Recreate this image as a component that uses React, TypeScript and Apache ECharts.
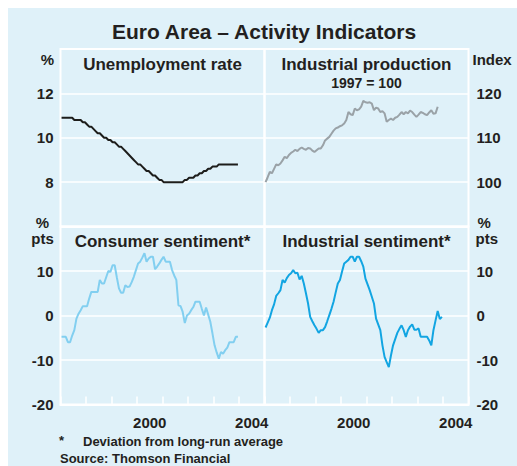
import React, { useEffect, useRef } from "react";
import * as echarts from "echarts";

// ---- Data ----
const startYear = 1997;
const yearTicks = ["1997", "1998", "1999", "2000", "2001", "2002", "2003", "2004"];
const labelledYears = ["2000", "2004"];

const leftTopLabels = [8, 10, 12];
const rightTopLabels = [100, 110, 120];
const bottomLabels = [-20, -10, 0, 10];

// Unemployment rate, %, monthly Jan 1997 - Dec 2003
const unemployment = [
  10.9, 10.9, 10.9, 10.9, 10.9, 10.9, 10.8, 10.8, 10.8, 10.8, 10.7, 10.7,
  10.6, 10.5, 10.5, 10.4, 10.3, 10.2, 10.2, 10.1, 10.0, 10.0, 9.9, 9.9,
  9.8, 9.8, 9.7, 9.6, 9.6, 9.5, 9.4, 9.3, 9.2, 9.1, 9.0, 8.9,
  8.8, 8.8, 8.7, 8.6, 8.5, 8.5, 8.4, 8.3, 8.3, 8.2, 8.1, 8.1,
  8.0, 8.0, 8.0, 8.0, 8.0, 8.0, 8.0, 8.0, 8.0, 8.0, 8.1, 8.1,
  8.2, 8.2, 8.2, 8.3, 8.3, 8.4, 8.4, 8.5, 8.5, 8.6, 8.6, 8.7,
  8.7, 8.7, 8.8, 8.8, 8.8, 8.8, 8.8, 8.8, 8.8, 8.8, 8.8, 8.8,
];

// Industrial production, 1997 = 100, monthly Jan 1997 - Oct 2003
const industrialProduction = [
  100.0, 101.1, 102.3, 102.0, 103.0, 104.0, 103.8, 104.2, 104.9, 105.7, 105.4, 106.1,
  106.6, 106.9, 107.3, 107.0, 107.5, 107.8, 107.5, 107.3, 107.7, 107.6, 107.1, 106.8,
  107.2, 107.6, 107.6, 108.3, 109.4, 109.8, 110.2, 110.9, 111.6, 112.1, 112.3, 112.6,
  112.8, 113.2, 114.0, 115.8, 115.3, 115.1, 116.6, 116.2, 116.4, 117.0, 118.3, 118.0,
  117.9, 118.0, 117.7, 116.2, 116.8, 116.6, 115.8, 116.0, 115.5, 113.6, 114.0, 114.3,
  114.0, 114.5, 114.7, 115.2, 115.8, 115.3, 115.8, 115.5, 116.1, 115.8, 115.2, 114.7,
  115.2, 115.8, 115.6, 115.3, 115.1, 115.7, 116.2, 115.4, 115.5, 117.0,
];

// Consumer sentiment, deviation from long-run average, % pts, Jan 1997 - Dec 2003
const consumerSentiment = [
  -4.8, -4.8, -4.8, -6.0, -6.0, -4.5, -3.3, -0.7, 0.4, 1.2, 2.1, 2.1,
  2.1, 3.8, 5.3, 5.3, 5.3, 5.3, 8.0, 7.2, 7.2, 8.6, 10.0, 9.8,
  11.3, 11.3, 8.6, 6.1, 5.1, 5.1, 6.8, 6.4, 6.5, 7.5, 8.7, 10.2,
  11.7, 12.1, 13.0, 14.0, 12.1, 12.8, 13.2, 13.2, 10.4, 11.0, 11.7, 12.5,
  13.2, 12.1, 12.1, 12.1, 10.2, 9.0, 8.0, 2.3, 2.1, 0.8, -1.7, 0.0,
  0.4, 1.2, 1.9, 3.1, 3.1, 3.1, 1.5, 0.0, 1.8, 0.2, -1.4, -4.0,
  -6.7, -8.3, -9.7, -8.2, -8.6, -7.8, -7.2, -6.0, -6.0, -6.0, -4.8, -4.8,
];

// Industrial sentiment, deviation from long-run average, % pts, Jan 1997 - Dec 2003
const industrialSentiment = [
  -2.7, -1.6, -0.5, 1.2, 2.5, 4.4, 5.0, 5.7, 8.0, 7.4, 8.4, 9.1,
  9.5, 10.2, 9.5, 9.6, 8.1, 8.9, 7.2, 5.0, 2.7, -0.3, -1.3, -2.2,
  -3.0, -3.9, -3.3, -3.3, -2.6, -1.3, 0.1, 1.5, 3.1, 5.2, 7.2, 8.0,
  9.9, 11.7, 12.1, 12.5, 13.2, 13.2, 12.1, 13.2, 13.2, 12.2, 11.0, 8.3,
  7.0, 5.7, 4.2, 2.7, -0.7, -2.0, -3.3, -6.7, -9.3, -10.5, -11.6, -9.0,
  -6.7, -5.3, -3.9, -3.0, -2.2, -3.3, -4.8, -3.3, -2.5, -2.0, -3.2, -3.2,
  -2.9, -4.8, -4.8, -4.8, -4.8, -5.6, -6.7, -3.3, -1.1, 1.0, -0.8, -0.3,
];

// ---- Styles ----
const BG = "#dff1f9";
const TEXT = "#231f20";
const FONT = "'Liberation Sans', Arial, Helvetica, sans-serif";

const toPoints = (values: number[]) =>
  values.map((v, i) => [startYear + (i + 0.5) / 12, v]);

function text(
  t: string,
  x: number,
  y: number,
  size: number,
  align: "left" | "center" | "right" = "center"
) {
  return {
    type: "text",
    x,
    y,
    silent: true,
    style: {
      text: t,
      fill: TEXT,
      font: `bold ${size}px ${FONT}`,
      textAlign: align,
      textVerticalAlign: "middle",
      align,
      verticalAlign: "middle",
    },
  };
}

export default function App() {
  const ref = useRef<HTMLDivElement>(null);

  useEffect(() => {
    if (!ref.current) return;
    const chart = echarts.init(ref.current, null, { renderer: "svg" });

    const gridBase = {
      show: true,
      borderColor: "#fff",
      borderWidth: 2,
      backgroundColor: "transparent",
      containLabel: false,
    };
    const labelStyle = {
      color: TEXT,
      fontFamily: FONT,
      fontWeight: "bold" as const,
      fontSize: 15,
    };
    const split = { show: true, lineStyle: { color: "#fff", width: 1.5 } };

    const hiddenX = (gridIndex: number) => ({
      type: "value",
      gridIndex,
      min: 1997,
      max: 2005,
      show: false,
    });
    const tickX = (gridIndex: number) => ({
      type: "category",
      gridIndex,
      data: yearTicks,
      position: "bottom",
      boundaryGap: true,
      axisLine: { show: true, lineStyle: { color: "#fff", width: 2 } },
      axisTick: {
        show: true,
        inside: true,
        length: 8,
        interval: 0,
        lineStyle: { color: "#fff", width: 1.5 },
      },
      axisLabel: {
        ...labelStyle,
        interval: 0,
        margin: 10,
        formatter: (v: string) => (labelledYears.includes(v) ? v : ""),
      },
      splitLine: { show: false },
    });

    const option = {
      animation: false,
      backgroundColor: "transparent",
      grid: [
        { ...gridBase, left: 60.5, top: 49, width: 204, height: 177.5 },
        { ...gridBase, left: 264.5, top: 49, width: 204, height: 177.5 },
        { ...gridBase, left: 60.5, top: 226.5, width: 204, height: 178 },
        { ...gridBase, left: 264.5, top: 226.5, width: 204, height: 178 },
      ],
      xAxis: [hiddenX(0), hiddenX(1), hiddenX(2), hiddenX(3), tickX(2), tickX(3)],
      yAxis: [
        {
          type: "value",
          gridIndex: 0,
          position: "left",
          min: 6,
          max: 14,
          interval: 2,
          axisLine: { show: false },
          axisTick: { show: false },
          splitLine: split,
          axisLabel: {
            ...labelStyle,
            margin: 7,
            formatter: (v: number) => (leftTopLabels.includes(v) ? String(v) : ""),
          },
        },
        {
          type: "value",
          gridIndex: 1,
          position: "right",
          min: 90,
          max: 130,
          interval: 10,
          axisLine: { show: false },
          axisTick: { show: false },
          splitLine: split,
          axisLabel: {
            ...labelStyle,
            margin: 8,
            formatter: (v: number) => (rightTopLabels.includes(v) ? String(v) : ""),
          },
        },
        {
          type: "value",
          gridIndex: 2,
          position: "left",
          min: -20,
          max: 20,
          interval: 10,
          axisLine: { show: false },
          axisTick: { show: false },
          splitLine: split,
          axisLabel: {
            ...labelStyle,
            margin: 7,
            formatter: (v: number) => (bottomLabels.includes(v) ? String(v) : ""),
          },
        },
        {
          type: "value",
          gridIndex: 3,
          position: "right",
          min: -20,
          max: 20,
          interval: 10,
          axisLine: { show: false },
          axisTick: { show: false },
          splitLine: split,
          axisLabel: {
            ...labelStyle,
            margin: 8,
            formatter: (v: number) => (bottomLabels.includes(v) ? String(v) : ""),
          },
        },
      ],
      series: [
        {
          name: "Unemployment rate",
          type: "line",
          xAxisIndex: 0,
          yAxisIndex: 0,
          data: toPoints(unemployment),
          symbol: "none",
          lineStyle: { color: "#1d1d1b", width: 2 },
        },
        {
          name: "Industrial production",
          type: "line",
          xAxisIndex: 1,
          yAxisIndex: 1,
          data: toPoints(industrialProduction),
          symbol: "none",
          lineStyle: { color: "#9aa2a7", width: 2 },
        },
        {
          name: "Consumer sentiment",
          type: "line",
          xAxisIndex: 2,
          yAxisIndex: 2,
          data: toPoints(consumerSentiment),
          symbol: "none",
          lineStyle: { color: "#82cff0", width: 2 },
        },
        {
          name: "Industrial sentiment",
          type: "line",
          xAxisIndex: 3,
          yAxisIndex: 3,
          data: toPoints(industrialSentiment),
          symbol: "none",
          lineStyle: { color: "#12a5e2", width: 2 },
        },
      ],
      graphic: [
        text("Euro Area – Activity Indicators", 264, 31.5, 21),
        text("Unemployment rate", 162.5, 64, 17),
        text("Industrial production", 366.5, 64, 17),
        text("1997 = 100", 366.5, 82.5, 14),
        text("Consumer sentiment*", 162.5, 241.5, 17),
        text("Industrial sentiment*", 366.5, 241.5, 17),
        text("%", 54, 59.5, 15, "right"),
        text("Index", 472.5, 59.5, 15, "left"),
        text("%", 42.5, 222.5, 15, "center"),
        text("pts", 42.5, 238.5, 15, "center"),
        text("%", 477.5, 222.5, 15, "left"),
        text("pts", 475.5, 238.5, 15, "left"),
        text("*", 61.5, 440, 13, "center"),
        text("Deviation from long-run average", 83, 441.5, 13, "left"),
        text("Source: Thomson Financial", 60, 458, 13, "left"),
      ],
    };

    chart.setOption(option as any);
    return () => chart.dispose();
  }, []);

  return (
    <div
      style={{
        position: "absolute",
        left: 0,
        top: 0,
        width: 517,
        height: 466,
        background: "#fff",
        overflow: "hidden",
      }}
    >
      <div
        style={{
          position: "absolute",
          left: 8,
          top: 8,
          width: 509,
          height: 458,
          background: BG,
        }}
      />
      <div
        ref={ref}
        style={{ position: "absolute", left: 0, top: 0, width: 517, height: 466 }}
      />
    </div>
  );
}
